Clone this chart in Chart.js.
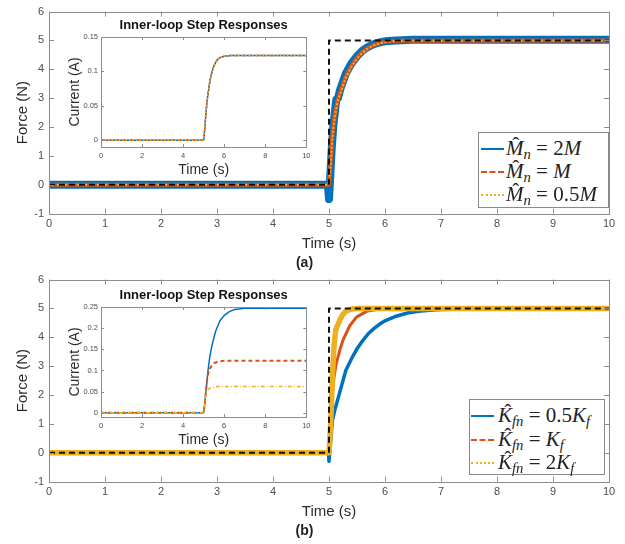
<!DOCTYPE html>
<html>
<head>
<meta charset="utf-8">
<script src="https://cdn.jsdelivr.net/npm/chart.js@4.4.0/dist/chart.umd.min.js"></script>
<style>
html, body { margin: 0; padding: 0; background: #fff; }
#fig { position: relative; width: 625px; height: 544px; overflow: hidden; }
#fig canvas { position: absolute; }
.legend { position: absolute; background: #fff; border: 1px solid #8a8a8a; box-sizing: border-box;
          font-family: "Liberation Serif", "DejaVu Serif", serif; font-size: 21px; color: #222; }
.legend .row { position: absolute; left: 0; height: 23px; white-space: nowrap; }
.legend .smp { position: absolute; width: 23px; top: 11px; height: 0; }
.legend .tx { position: absolute; top: 0; line-height: 23px; }
.hat { position: relative; font-style: italic; display: inline-block; }
.hat .acc { position: absolute; left: 0.3em; top: -3px; line-height: 23px; font-style: normal; font-size: 21px; color: #222; }
.legend sub { font-size: 0.7em; vertical-align: -0.3em; line-height: 0; }
</style>
</head>
<body>
<div id="fig">
  <canvas id="mainA" width="625" height="272" style="left:0;top:0"></canvas>
  <canvas id="mainB" width="625" height="272" style="left:0;top:268px"></canvas>
  <canvas id="insA" width="255" height="166" style="left:60px;top:14px"></canvas>
  <canvas id="insB" width="255" height="166" style="left:60px;top:284px"></canvas>

  <div class="legend" style="left:478px;top:132px;width:131px;height:76px">
    <div class="row" style="top:3.5px"><span class="smp" style="left:2px;border-top:2px solid #0072BD"></span>
      <span class="tx" style="left:27px"><span class="hat">M<span class="acc">ˆ</span></span><sub><i>n</i></sub> = 2<i>M</i></span></div>
    <div class="row" style="top:26.5px"><span class="smp" style="left:2px;border-top:2px dashed #D95319"></span>
      <span class="tx" style="left:27px"><span class="hat">M<span class="acc">ˆ</span></span><sub><i>n</i></sub> = <i>M</i></span></div>
    <div class="row" style="top:49.5px"><span class="smp" style="left:2px;border-top:2px dotted #EDB120"></span>
      <span class="tx" style="left:27px"><span class="hat">M<span class="acc">ˆ</span></span><sub><i>n</i></sub> = 0.5<i>M</i></span></div>
  </div>

  <div class="legend" style="left:469px;top:399px;width:136px;height:76px">
    <div class="row" style="top:3.5px"><span class="smp" style="left:1px;border-top:2px solid #0072BD"></span>
      <span class="tx" style="left:28px"><span class="hat">K<span class="acc">ˆ</span></span><sub><i>fn</i></sub> = 0.5<i>K</i><sub><i>f</i></sub></span></div>
    <div class="row" style="top:27.5px"><span class="smp" style="left:1px;border-top:2px dashed #D95319"></span>
      <span class="tx" style="left:28px"><span class="hat">K<span class="acc">ˆ</span></span><sub><i>fn</i></sub> = <i>K</i><sub><i>f</i></sub></span></div>
    <div class="row" style="top:51px"><span class="smp" style="left:1px;border-top:2px dotted #EDB120"></span>
      <span class="tx" style="left:28px"><span class="hat">K<span class="acc">ˆ</span></span><sub><i>fn</i></sub> = 2<i>K</i><sub><i>f</i></sub></span></div>
  </div>
</div>

<script>
// ---- data ----

// reference step (both panels)
const refT = [0, 5, 5, 10];
const refF = [0, 0, 5, 5];

// (a) force, varying M_n
const aBlueT = [0, 4.98, 5.0, 5.02, 5.05, 5.08, 5.11, 5.13, 5.16, 5.2, 5.3, 5.4, 5.5, 5.6, 5.7, 5.8, 5.9, 6.0, 6.2, 6.5, 10];
const aBlueF = [0, 0, -0.5, 0.2, 1.3, 2.1, 2.6, 2.95, 3.0, 3.3, 3.85, 4.2, 4.45, 4.65, 4.78, 4.87, 4.93, 4.97, 5.0, 5.02, 5.02];
const aOrT = [0, 5.0, 5.03, 5.06, 5.1, 5.15, 5.2, 5.3, 5.4, 5.5, 5.6, 5.7, 5.8, 5.9, 6.0, 6.2, 10];
const aOrF = [0, 0, 0.8, 1.7, 2.4, 2.9, 3.2, 3.75, 4.12, 4.4, 4.6, 4.74, 4.84, 4.91, 4.95, 4.99, 5.0];
const aYeT = [0, 5.0, 5.03, 5.06, 5.1, 5.15, 5.2, 5.3, 5.4, 5.5, 5.6, 5.7, 5.8, 5.9, 6.0, 6.2, 10];
const aYeF = [0, 0, 0.7, 1.6, 2.3, 2.85, 3.15, 3.7, 4.08, 4.37, 4.58, 4.73, 4.83, 4.9, 4.95, 4.99, 5.0];

// (a) inset current, all three overlap
const iaT = [0, 5, 5.05, 5.1, 5.15, 5.2, 5.3, 5.4, 5.5, 5.6, 5.7, 5.8, 6.0, 6.3, 10];
const iaI = [0, 0, 0.015, 0.035, 0.052, 0.065, 0.085, 0.099, 0.108, 0.114, 0.118, 0.12, 0.122, 0.123, 0.123];

// (b) force, varying K_fn
const bBlueT = [0, 4.99, 5.0, 5.03, 5.06, 5.1, 5.15, 5.2, 5.3, 5.4, 5.5, 5.6, 5.7, 5.8, 5.9, 6.0, 6.2, 6.4, 6.6, 6.8, 7.0, 7.5, 8.0, 10];
const bBlueF = [0, 0, -0.3, 0.4, 1.1, 1.45, 1.8, 2.15, 2.85, 3.25, 3.6, 3.88, 4.12, 4.3, 4.45, 4.57, 4.73, 4.84, 4.9, 4.94, 4.96, 4.99, 5.0, 5.0];
const bOrT = [0, 5.0, 5.02, 5.05, 5.07, 5.1, 5.13, 5.2, 5.25, 5.37, 5.49, 5.67, 5.9, 6.2, 10];
const bOrF = [0, 0, 0.5, 1.6, 2.3, 2.75, 3.1, 3.6, 3.9, 4.4, 4.7, 4.9, 4.98, 5.0, 5.0];
const bYeT = [0, 5.0, 5.03, 5.06, 5.09, 5.12, 5.15, 5.2, 5.25, 5.3, 5.4, 5.5, 10];
const bYeF = [0, 0, 1.0, 2.6, 3.7, 4.25, 4.4, 4.62, 4.8, 4.9, 4.98, 5.0, 5.0];

// (b) inset current
const ibBlueT = [0, 5, 5.05, 5.1, 5.2, 5.3, 5.4, 5.5, 5.6, 5.8, 6.0, 6.25, 6.5, 7.0, 10];
const ibBlueI = [0, 0, 0.02, 0.045, 0.095, 0.133, 0.158, 0.178, 0.195, 0.218, 0.23, 0.239, 0.244, 0.247, 0.247];
const ibOrT = [0, 5, 5.05, 5.1, 5.15, 5.2, 5.3, 5.4, 5.5, 5.7, 6.0, 10];
const ibOrI = [0, 0, 0.02, 0.045, 0.07, 0.088, 0.104, 0.112, 0.117, 0.121, 0.123, 0.123];
const ibYeT = [0, 5, 5.05, 5.1, 5.15, 5.25, 5.4, 5.7, 10];
const ibYeI = [0, 0, 0.02, 0.04, 0.05, 0.057, 0.06, 0.062, 0.062];

// tick labels
const mainXTicks = [0, 1, 2, 3, 4, 5, 6, 7, 8, 9, 10];
const mainYTicks = [-1, 0, 1, 2, 3, 4, 5, 6];
const insXTicks = [0, 2, 4, 6, 8, 10];
const insAYTicks = [0, 0.05, 0.1, 0.15];
const insBYTicks = [0, 0.05, 0.1, 0.15, 0.2, 0.25];

// ---- styling ----
const COLORS = {
    blue: '#0072BD',
    orange: '#D95319',
    yellow: '#EDB120',
    ref: '#111111',
    axis: '#8c8c8c',
    tick: '#4d4d4d',
    label: '#2b2b2b'
};

Chart.defaults.font.family = '"Liberation Sans", Arial, sans-serif';

const pts = (t, v) => t.map((x, i) => ({ x: x, y: v[i] }));

function line(t, v, color, width, dash, order) {
    return {
        data: pts(t, v),
        borderColor: color,
        borderWidth: width,
        borderDash: dash || [],
        order: order,
        pointRadius: 0,
        tension: 0,
        borderJoinStyle: 'round',
        fill: false
    };
}

// box around the plot area with inward tick marks on all four sides
const boxTicks = {
    id: 'boxTicks',
    afterDatasetsDraw(chart, args, opts) {
        const { ctx, chartArea: a, scales: { x, y } } = chart;
        const len = opts.len || 5;
        ctx.save();
        ctx.strokeStyle = COLORS.axis;
        ctx.lineWidth = 1;
        ctx.setLineDash([]);
        ctx.beginPath();
        x.ticks.forEach(t => {
            const px = Math.round(x.getPixelForValue(t.value)) + 0.5;
            ctx.moveTo(px, a.bottom); ctx.lineTo(px, a.bottom - len);
            ctx.moveTo(px, a.top); ctx.lineTo(px, a.top + len);
        });
        y.ticks.forEach(t => {
            const py = Math.round(y.getPixelForValue(t.value)) + 0.5;
            ctx.moveTo(a.left, py); ctx.lineTo(a.left + len, py);
            ctx.moveTo(a.right, py); ctx.lineTo(a.right - len, py);
        });
        ctx.stroke();
        ctx.strokeRect(Math.round(a.left) + 0.5, Math.round(a.top) + 0.5,
                       Math.round(a.width), Math.round(a.height));
        ctx.restore();
    }
};

const setTicks = arr => scale => { scale.ticks = arr.map(v => ({ value: v })); };
const noGrid = { display: false, drawTicks: false };

function mainChart(id, caption, datasets) {
    return new Chart(document.getElementById(id), {
        type: 'line',
        data: { datasets: datasets },
        options: {
            responsive: false,
            animation: false,
            devicePixelRatio: 1,
            layout: { padding: { top: 11, right: 16, left: 0, bottom: 0 } },
            plugins: {
                legend: { display: false },
                tooltip: { enabled: false },
                title: {
                    display: true,
                    position: 'bottom',
                    text: caption,
                    color: '#222',
                    font: { size: 14, weight: 'bold' },
                    padding: 0
                },
                boxTicks: { len: 5 }
            },
            scales: {
                x: {
                    type: 'linear',
                    min: 0,
                    max: 10,
                    afterBuildTicks: setTicks(mainXTicks),
                    grid: noGrid,
                    border: { display: false },
                    ticks: { autoSkip: false, maxRotation: 0, padding: 4, color: COLORS.tick, font: { size: 11 } },
                    title: { display: true, text: 'Time (s)', color: COLORS.label, font: { size: 15 }, padding: { top: 0, bottom: 2 } },
                    afterFit: s => { s.height = 41.7; }
                },
                y: {
                    min: -1,
                    max: 6,
                    afterBuildTicks: setTicks(mainYTicks),
                    grid: noGrid,
                    border: { display: false },
                    ticks: { autoSkip: false, padding: 5, color: COLORS.tick, font: { size: 11 } },
                    title: { display: true, text: 'Force (N)', color: COLORS.label, font: { size: 15 }, padding: { top: 14, bottom: 0 } },
                    afterFit: s => { s.width = 49; }
                }
            }
        },
        plugins: [boxTicks]
    });
}

function insetChart(id, yMax, yTicks, datasets) {
    return new Chart(document.getElementById(id), {
        type: 'line',
        data: { datasets: datasets },
        options: {
            responsive: false,
            animation: false,
            devicePixelRatio: 1,
            layout: { padding: { top: 0, right: 7, left: 0, bottom: 0 } },
            plugins: {
                legend: { display: false },
                tooltip: { enabled: false },
                title: {
                    display: true,
                    fullSize: false,
                    text: 'Inner-loop Step Responses',
                    color: '#111',
                    font: { size: 13, weight: 'bold' },
                    padding: { top: 3.2, bottom: 4.2 }
                },
                boxTicks: { len: 3 }
            },
            scales: {
                x: {
                    type: 'linear',
                    min: 0,
                    max: 10,
                    afterBuildTicks: setTicks(insXTicks),
                    grid: noGrid,
                    border: { display: false },
                    ticks: { autoSkip: false, maxRotation: 0, padding: 4.5, color: COLORS.tick, font: { size: 7.5 } },
                    title: { display: true, text: 'Time (s)', color: COLORS.label, font: { size: 14 }, padding: { top: 0, bottom: 1.6 } },
                    afterFit: s => { s.height = 33; }
                },
                y: {
                    min: -0.01,
                    max: yMax,
                    afterBuildTicks: setTicks(yTicks),
                    grid: noGrid,
                    border: { display: false },
                    ticks: {
                        autoSkip: false, padding: 3, color: COLORS.tick, font: { size: 7.5 },
                        callback: v => String(+v.toFixed(2))
                    },
                    title: { display: true, text: 'Current (A)', color: COLORS.label, font: { size: 14 }, padding: { top: 6.6, bottom: 0 } },
                    afterFit: s => { s.width = 41; }
                }
            }
        },
        plugins: [boxTicks]
    });
}

// MATLAB plot order: blue first, reference last (on top)
mainChart('mainA', '(a)', [
    line(refT, refF, COLORS.ref, 2, [6, 4], 0),
    line(aYeT, aYeF, COLORS.yellow, 2, [2, 2], 1),
    line(aOrT, aOrF, COLORS.orange, 4, [], 2),
    line(aBlueT, aBlueF, COLORS.blue, 8, [], 3)
]);

mainChart('mainB', '(b)', [
    line(refT, refF, COLORS.ref, 2, [6, 4], 0),
    line(bYeT, bYeF, COLORS.yellow, 5.5, [], 1),
    line(bOrT, bOrF, COLORS.orange, 3, [], 2),
    line(bBlueT, bBlueF, COLORS.blue, 3.5, [], 3)
]);

insetChart('insA', 0.15, insAYTicks, [
    line(iaT, iaI, COLORS.yellow, 1.5, [1.5, 2], 1),
    line(iaT, iaI, COLORS.orange, 1.5, [4, 3], 2),
    line(iaT, iaI, COLORS.blue, 1.5, [], 3)
]);

insetChart('insB', 0.25, insBYTicks, [
    line(ibYeT, ibYeI, COLORS.yellow, 1.5, [4, 2, 1, 2], 1),
    line(ibOrT, ibOrI, COLORS.orange, 2, [4, 3], 2),
    line(ibBlueT, ibBlueI, COLORS.blue, 1.5, [], 3)
]);
</script>
</body>
</html>
